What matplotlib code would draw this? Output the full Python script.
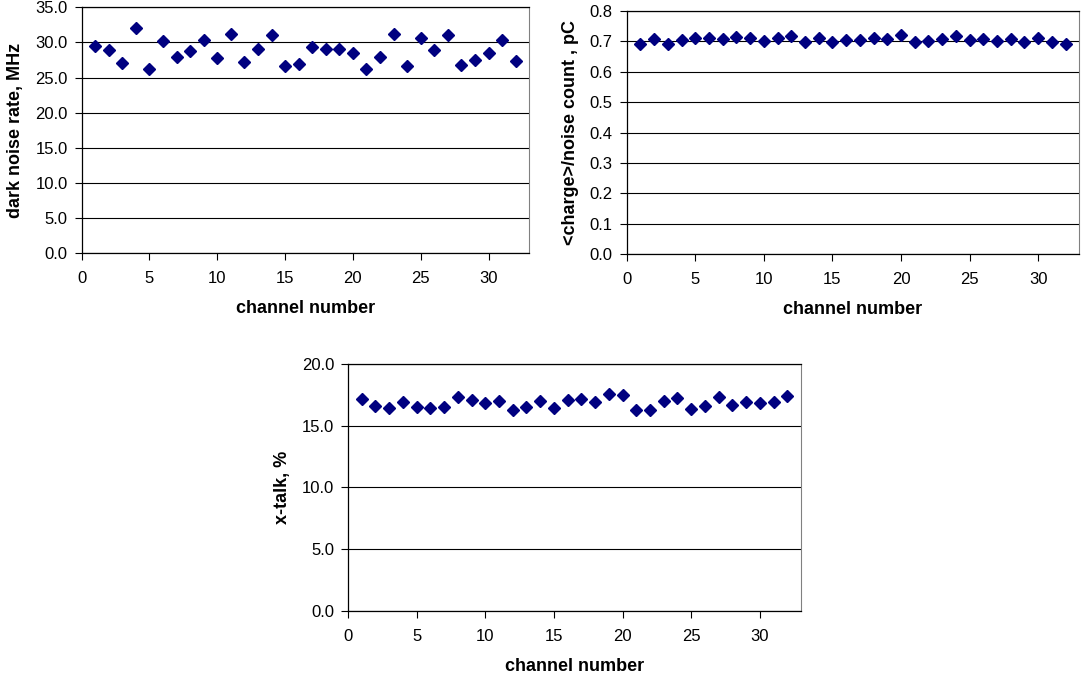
import matplotlib
matplotlib.use('Agg')
import matplotlib.pyplot as plt

plt.rcParams['font.family'] = ['Liberation Sans', 'DejaVu Sans']

channels = list(range(1, 33))
dark_noise = [29.5, 28.9, 27.1, 32.0, 26.2, 30.2, 27.9, 28.8, 30.4, 27.8,
              31.2, 27.2, 29.1, 31.0, 26.7, 27.0, 29.4, 29.1, 29.1, 28.5,
              26.2, 27.9, 31.2, 26.7, 30.7, 28.9, 31.0, 26.8, 27.5, 28.5,
              30.4, 27.4]
charge = [0.692, 0.707, 0.692, 0.703, 0.712, 0.712, 0.707, 0.714, 0.712, 0.700,
          0.712, 0.718, 0.696, 0.712, 0.696, 0.703, 0.703, 0.712, 0.707, 0.721,
          0.696, 0.700, 0.707, 0.718, 0.703, 0.707, 0.700, 0.707, 0.696, 0.712,
          0.696, 0.692]
xtalk = [17.17, 16.58, 16.42, 16.93, 16.52, 16.42, 16.52, 17.35, 17.06, 16.82,
         17.0, 16.31, 16.52, 17.0, 16.42, 17.06, 17.17, 16.93, 17.6, 17.49,
         16.31, 16.31, 17.0, 17.25, 16.36, 16.6, 17.35, 16.68, 16.93, 16.85,
         16.93, 17.43]

fig = plt.figure(figsize=(10.83, 6.8), dpi=100)


def panel(rect, y, ymax, ystep, ylabel):
    ax = fig.add_axes(rect)
    ax.plot(channels, y, 'D', color='#000080', markersize=6.5, linestyle='none', zorder=3)
    ax.set_xlim(0, 33)
    ax.set_ylim(0, ymax)
    ax.set_xticks(range(0, 31, 5))
    n = int(round(ymax / ystep))
    ticks = [i * ystep for i in range(n + 1)]
    ax.set_yticks(ticks)
    ax.set_yticklabels(['%.1f' % t for t in ticks])
    ax.yaxis.grid(True, color='black', linewidth=0.8)
    ax.set_axisbelow(True)
    for s in ['left', 'bottom', 'top']:
        ax.spines[s].set_color('black')
        ax.spines[s].set_linewidth(0.9)
    ax.spines['right'].set_color('#808080')
    ax.tick_params(direction='out', length=5, width=0.8, labelsize=12, colors='black')
    ax.tick_params(axis='x', pad=8)
    ax.tick_params(axis='y', pad=5)
    ax.set_xlabel('channel number', fontsize=13, fontweight='bold', labelpad=10)
    ax.set_ylabel(ylabel, fontsize=13, fontweight='bold', labelpad=8)
    return ax


panel([0.0754, 0.6275, 0.4133, 0.3618], dark_noise, 35, 5, 'dark noise rate, MHz')
panel([0.5787, 0.626, 0.4179, 0.3582], charge, 0.8, 0.1, '<charge>/noise count , pC')
panel([0.3213, 0.1019, 0.4183, 0.3628], xtalk, 20, 5, 'x-talk, %')

fig.savefig('out.png', dpi=100)
